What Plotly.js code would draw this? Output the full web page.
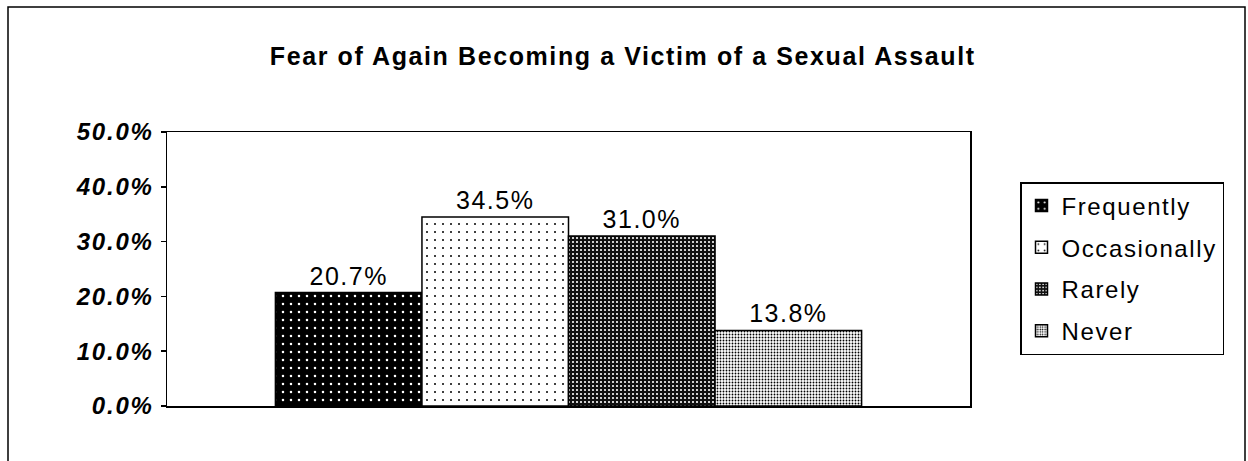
<!DOCTYPE html>
<html>
<head>
<meta charset="utf-8">
<script src="https://cdn.plot.ly/plotly-3.0.1.min.js"></script>
<style>
html,body{margin:0;padding:0;background:#fff;}
#chart{width:1248px;height:461px;}
.gtitle{letter-spacing:1.6px;}
.bartext{letter-spacing:1.5px;}
.ytick text{letter-spacing:1.8px;}
.legendtext{letter-spacing:1.6px;}
</style>
</head>
<body>
<div id="chart"></div>
<script>
const categories = ["Fear"];
const seriesNames = ["Frequently", "Occasionally", "Rarely", "Never"];
const seriesValues = [0.207, 0.345, 0.310, 0.138];
const valueLabels = ["20.7%", "34.5%", "31.0%", "13.8%"];
const tickValues = [0, 0.1, 0.2, 0.3, 0.4, 0.5];
const tickLabels = ["0.0%", "10.0%", "20.0%", "30.0%", "40.0%", "50.0%"];

const patterns = [
  {bg: "#000000", fg: "#ffffff", size: 8, solidity: 0.08},
  {bg: "#ffffff", fg: "#000000", size: 8, solidity: 0.05},
  {bg: "#111111", fg: "#ffffff", size: 4, solidity: 0.22},
  {bg: "#ffffff", fg: "#000000", size: 3, solidity: 0.3}
];

const font = "Liberation Sans, Arial, sans-serif";

const traces = seriesNames.map((name, i) => ({
  type: "bar",
  name: name,
  legendgroup: "g" + i,
  x: categories,
  y: [seriesValues[i]],
  text: [valueLabels[i]],
  textposition: "outside",
  textfont: {family: font, size: 25, color: "#000"},
  cliponaxis: false,
  marker: {
    color: patterns[i].bg,
    line: {color: "#000", width: 1.5},
    pattern: {shape: ".", bgcolor: patterns[i].bg, fgcolor: patterns[i].fg, size: patterns[i].size, solidity: patterns[i].solidity, fillmode: "replace"}
  },
  hoverinfo: "skip"
}));

const L = 167, R = 970, T = 132, B = 406, W = 1248, H = 461;
const pw = R - L, ph = B - T;
const px = v => (v - L) / pw;
const py = v => (B - v) / ph;

const layout = {
  width: W, height: H,
  margin: {l: L, r: W - R, t: T, b: H - B, pad: 0},
  paper_bgcolor: "#fff",
  plot_bgcolor: "#fff",
  barmode: "group",
  bargap: 0.27,
  bargroupgap: 0,
  showlegend: true,
  title: {
    text: "Fear of Again Becoming a Victim of a Sexual Assault",
    font: {family: font, size: 25, color: "#000", weight: "bold"},
    x: 0.499, xref: "container", xanchor: "center",
    y: 1 - 56 / H, yref: "container", yanchor: "middle"
  },
  xaxis: {
    showticklabels: false, ticks: "", showgrid: false, zeroline: false,
    showline: true, linecolor: "#000", linewidth: 1.5, mirror: true
  },
  yaxis: {
    range: [0, 0.5], tickvals: tickValues, ticktext: tickLabels,
    ticks: "outside", ticklen: 5, tickcolor: "#000", tickwidth: 1.5,
    showgrid: false, zeroline: false,
    showline: true, linecolor: "#000", linewidth: 1.5, mirror: true,
    tickfont: {family: font, size: 24, color: "#000", weight: "bold", style: "italic"},
    ticklabelstandoff: 2
  },
  legend: {
    x: px(1020), xanchor: "left", y: py(182), yanchor: "top",
    bordercolor: "#000", borderwidth: 1.5, bgcolor: "#fff",
    font: {family: font, size: 24, color: "#000"},
    itemwidth: 30, tracegroupgap: 7.5,
    traceorder: "grouped"
  },
  shapes: [{
    type: "rect", xref: "paper", yref: "paper",
    x0: px(8), x1: px(1245), y0: py(470), y1: py(7),
    line: {color: "#000", width: 1.5}, fillcolor: "rgba(0,0,0,0)", layer: "below"
  }]
};

Plotly.newPlot("chart", traces, layout, {displayModeBar: false, staticPlot: true});
</script>
</body>
</html>
